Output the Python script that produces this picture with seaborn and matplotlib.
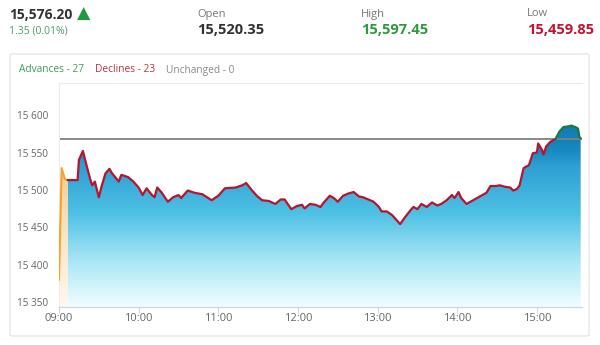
import numpy as np
import pandas as pd
import matplotlib
matplotlib.use("Agg")
import matplotlib.pyplot as plt
import matplotlib.transforms as mtransforms
from matplotlib.colors import LinearSegmentedColormap
from matplotlib.patches import FancyBboxPatch
import seaborn as sns

# ---------------- data ----------------
pre_minutes = [0, 2, 4.5, 6.5]                 # minutes after 09:00 (pre-open, orange)
pre_values = [15386, 15536, 15521, 15520]

minutes = [6.5, 14, 15, 18, 21, 24, 25, 27, 30, 32, 35, 38, 40, 45, 47, 52, 56, 60,
           63, 66, 70, 72, 74, 77, 82, 86, 90, 92, 97, 102, 108, 115, 120, 125, 133,
           138, 141, 145, 149, 153, 158, 163, 167, 170, 175, 179, 183, 185, 189, 193,
           197, 199, 204, 207, 210, 214, 218, 222, 226, 229, 233, 237, 241, 243, 247,
           251, 254, 257, 261, 265, 267, 270, 273, 277, 281, 285, 288, 292, 296, 298,
           301, 303, 307, 311, 315, 319, 322, 325, 329, 332, 336, 340, 342, 345, 347,
           350, 354, 357, 360, 361, 364, 365, 367, 370, 374, 377, 380, 384, 386, 389,
           391, 392, 393]
values = [15520, 15520, 15547, 15559, 15538, 15518, 15513, 15518, 15497, 15511, 15529,
          15535, 15529, 15518, 15527, 15524, 15518, 15510, 15500, 15509, 15500, 15497,
          15510, 15504, 15491, 15497, 15500, 15496, 15506, 15503, 15501, 15493, 15499,
          15509, 15510, 15513, 15516, 15507, 15499, 15493, 15492, 15488, 15494, 15494,
          15481, 15485, 15487, 15482, 15488, 15487, 15484, 15489, 15499, 15496, 15491,
          15499, 15502, 15504, 15498, 15497, 15494, 15491, 15484, 15478, 15478, 15473,
          15467, 15461, 15471, 15480, 15484, 15481, 15488, 15484, 15490, 15486, 15488,
          15493, 15500, 15496, 15504, 15496, 15488, 15492, 15496, 15500, 15503, 15512,
          15512, 15513, 15511, 15510, 15506, 15508, 15513, 15536, 15540, 15556, 15557,
          15569, 15560, 15554, 15565, 15571, 15575, 15585, 15591, 15592, 15593, 15591,
          15589, 15578, 15576]

prev_close = 15574.85
x_ticks = [0, 60, 120, 180, 240, 300, 360]
x_labels = ["09:00", "10:00", "11:00", "12:00", "13:00", "14:00", "15:00"]
y_ticks = [15350, 15400, 15450, 15500, 15550, 15600]
y_labels = ["15 350", "15 400", "15 450", "15 500", "15 550", "15 600"]

header_last = "15,576.20"
header_change = "1.35 (0.01%)"
header_open = "15,520.35"
header_high = "15,597.45"
header_low = "15,459.85"
breadth = ["Advances - 27", "Declines - 23", "Unchanged - 0"]

# ---------------- figure ----------------
sns.set_theme(style="white")
plt.rcParams['font.family'] = ['Open Sans', 'DejaVu Sans']

W, H = 600, 345
fig = plt.figure(figsize=(6, 3.45), dpi=100)
fig.patch.set_facecolor("white")

def fx(px):
    return px / W

def fy(py):
    return 1 - py / H

# card (outline only, behind everything)
card = FancyBboxPatch((fx(10), fy(336)), fx(579), 282 / H,
                      boxstyle="round,pad=0,rounding_size=0.004",
                      transform=fig.transFigure, facecolor="none",
                      edgecolor="#e4e4e4", linewidth=0.9, zorder=-5)
fig.patches.append(card)

# plot axes
x0, x1, y0, y1 = 59, 582, 83, 307
ax = fig.add_axes([fx(x0), fy(y1), (x1 - x0) / W, (y1 - y0) / H])
ax.patch.set_alpha(0)
XMAX = 394
YMIN, YMAX = 15350, 15650

# gradient fills
blue_cmap = LinearSegmentedColormap.from_list(
    "blue", [(0.0, "#f2fdff"), (0.25, "#a8e6f6"), (0.5, "#4fc1e5"),
             (0.75, "#2ea0d3"), (0.85, "#1787bf"), (1.0, "#0f78b0")])
orange_cmap = LinearSegmentedColormap.from_list(
    "orange", [(0.0, "#fff8ee"), (0.5, "#fbe2bd"), (1.0, "#f6c47e")])

grad = np.linspace(0, 1, 256).reshape(-1, 1)
poly_b = ax.fill_between(minutes, values, YMIN, facecolor="none", edgecolor="none")
im_b = ax.imshow(grad, extent=[0, XMAX, YMIN, 15600], origin="lower",
                 aspect="auto", cmap=blue_cmap, zorder=1)
im_b.set_clip_path(poly_b.get_paths()[0], transform=ax.transData)

poly_o = ax.fill_between(pre_minutes, pre_values, YMIN, facecolor="none", edgecolor="none")
im_o = ax.imshow(grad, extent=[0, XMAX, YMIN, 15560], origin="lower",
                 aspect="auto", cmap=orange_cmap, zorder=1)
im_o.set_clip_path(poly_o.get_paths()[0], transform=ax.transData)

# lines
df = pd.DataFrame({"minute": minutes, "value": values})
split = minutes.index(374)
df_red = df.iloc[:split + 1]
df_green = df.iloc[split:]
df_pre = pd.DataFrame({"minute": pre_minutes, "value": pre_values})

sns.lineplot(data=df_pre, x="minute", y="value", ax=ax, color="#f0a530",
             linewidth=1.5, estimator=None, sort=False, zorder=3)
sns.lineplot(data=df_red, x="minute", y="value", ax=ax, color="#b8142c",
             linewidth=1.6, estimator=None, sort=False, zorder=3)
sns.lineplot(data=df_green, x="minute", y="value", ax=ax, color="#1b7a3e",
             linewidth=1.6, estimator=None, sort=False, zorder=3)

ax.axhline(prev_close, color="#808080", linewidth=1.3, zorder=2)

ax.set_xlim(0, XMAX)
ax.set_ylim(YMIN, YMAX)
ax.set_xlabel("")
ax.set_ylabel("")
ax.set_xticks(x_ticks)
ax.set_xticklabels(x_labels)
ax.set_yticks(y_ticks)
ax.set_yticklabels(y_labels)
ax.tick_params(axis="x", length=4, width=0.8, color="#ccd6eb", pad=0,
               labelsize=8, labelcolor="#666666", bottom=True)
ax.tick_params(axis="y", length=0, pad=8, labelsize=7.2, labelcolor="#666666")
offset = mtransforms.ScaledTranslation(0, 5 / 100, fig.dpi_scale_trans)
for lab in ax.get_yticklabels():
    lab.set_transform(lab.get_transform() + offset)

for side in ["left", "top", "right"]:
    ax.spines[side].set_color("#ececec")
    ax.spines[side].set_linewidth(0.8)
ax.spines["right"].set_visible(False)
ax.spines["bottom"].set_color("#ccd6eb")
ax.spines["bottom"].set_linewidth(0.9)
ax.grid(False)

# header texts
fig.text(fx(9), fy(15), header_last, fontsize=10, fontweight="bold",
         color="#333333", va="center", ha="left")
fig.text(fx(77), fy(14), "\u25B2", fontsize=12.5, color="#1e9a40",
         va="center", ha="left", family=["DejaVu Sans"])
fig.text(fx(9), fy(31), header_change, fontsize=7.5, color="#4d9d66",
         va="center", ha="left")

for xpos, label, val, col in [(197, "Open", header_open, "#333333"),
                              (361, "High", header_high, "#2e9a3e"),
                              (527, "Low", header_low, "#c4122f")]:
    fig.text(fx(xpos), fy(14), label, fontsize=8, color="#777777",
             va="center", ha="left")
    fig.text(fx(xpos), fy(30), val, fontsize=10.5, fontweight="bold",
             color=col, va="center", ha="left")

fig.text(fx(19), fy(70), breadth[0], fontsize=7.3, color="#3b9a5c",
         va="center", ha="left")
fig.text(fx(95), fy(70), breadth[1], fontsize=7.3, color="#b5343c",
         va="center", ha="left")
fig.text(fx(166), fy(70), breadth[2], fontsize=7.3, color="#888888",
         va="center", ha="left")

fig.savefig("out.png", dpi=100, facecolor="white")
